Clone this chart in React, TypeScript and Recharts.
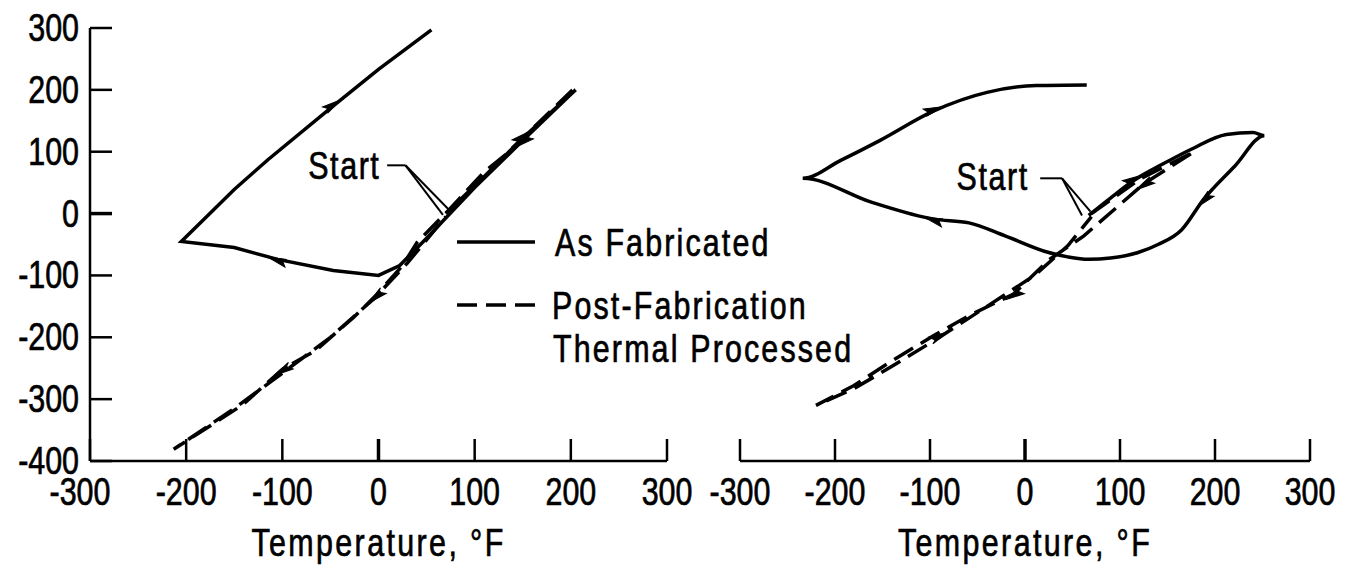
import { Label, Legend, Line, LineChart, ReferenceDot, ReferenceLine, XAxis, YAxis } from 'recharts';

const FONT = "'Liberation Sans', Arial, sans-serif";

const xTicks = [-300, -200, -100, 0, 100, 200, 300];
const yTicks = [-400, -300, -200, -100, 0, 100, 200, 300];
const xTitle = 'Temperature, °F';
const startText = 'Start';
const legendLabels = [['As Fabricated'], ['Post-Fabrication', 'Thermal Processed']];

// left panel
const asFabLeft = [
  { x: 70, y: 0 }, { x: 110, y: 60 }, { x: 150, y: 122 }, { x: 205, y: 200 },
  { x: 150, y: 118 }, { x: 100, y: 42 }, { x: 50, y: -40 }, { x: 22, y: -84 },
  { x: 0, y: -100 }, { x: -47, y: -92 }, { x: -105, y: -74 }, { x: -150, y: -55 },
  { x: -205, y: -45 }, { x: -150, y: 39 }, { x: -115, y: 87 }, { x: -47, y: 174 },
  { x: 0, y: 233 }, { x: 55, y: 297 },
];
const thermalLeft = [
  { x: 70, y: 0 }, { x: 110, y: 62 }, { x: 150, y: 122 }, { x: 205, y: 205 },
  { x: 150, y: 118 }, { x: 109, y: 66 }, { x: 72, y: 4 }, { x: 40, y: -47 },
  { x: 25, y: -84 }, { x: -3, y: -133 }, { x: -26, y: -168 }, { x: -40, y: -187 },
  { x: -65, y: -221 }, { x: -100, y: -252 }, { x: -142, y: -310 }, { x: -213, y: -381 },
  { x: -150, y: -315 }, { x: -100, y: -258 }, { x: -50, y: -200 }, { x: -5, y: -138 },
  { x: 30, y: -80 }, { x: 70, y: -5 },
];

// right panel
const asFabRight = [
  { x: 67, y: -3 }, { x: 90, y: 25 }, { x: 114, y: 53 }, { x: 145, y: 80 },
  { x: 175, y: 104 }, { x: 212, y: 128 }, { x: 240, y: 131 }, { x: 252, y: 126 },
  { x: 221, y: 77 }, { x: 188, y: 23 }, { x: 165, y: -26 }, { x: 140, y: -50 },
  { x: 119, y: -63 }, { x: 90, y: -72 }, { x: 67, y: -74 }, { x: 45, y: -70 },
  { x: 25, y: -63 }, { x: -21, y: -36 }, { x: -59, y: -15 }, { x: -96, y: -9 },
  { x: -161, y: 18 }, { x: -234, y: 57 }, { x: -194, y: 86 }, { x: -153, y: 118 },
  { x: -96, y: 166 }, { x: -40, y: 196 }, { x: 12, y: 207 }, { x: 65, y: 208 },
];
const thermalRight = [
  { x: 70, y: 0 }, { x: 120, y: 55 }, { x: 178, y: 100 }, { x: 125, y: 48 },
  { x: 62, y: -36 }, { x: 25, y: -75 }, { x: -12, y: -130 }, { x: -59, y: -165 },
  { x: -96, y: -197 }, { x: -143, y: -241 }, { x: -180, y: -278 }, { x: -220, y: -310 },
  { x: -180, y: -283 }, { x: -140, y: -247 }, { x: -90, y: -200 }, { x: -40, y: -150 },
  { x: 10, y: -100 }, { x: 45, y: -52 }, { x: 70, y: -5 },
];

// indices of points carrying a direction arrow
const arrowsAsFabLeft = [2, 10, 15];
const arrowsThermalLeft = [4, 9, 13];
const arrowsAsFabRight = [2, 9, 19, 24];
const arrowsThermalRight = [3, 6, 14];

// "Start" leader lines: [elbow start, elbow, tip A, tip B]
const startLeft = [{ x: 9, y: 78 }, { x: 28, y: 78 }, { x: 67, y: -2 }, { x: 74, y: 5 }];
const startRight = [{ x: 16, y: 57 }, { x: 39, y: 57 }, { x: 60, y: -3 }, { x: 69, y: 3 }];

const DASH = '22 9';

function NText({ x, y, anchor = 'start', spacing = 0, children }: any) {
  return (
    <text
      transform={`translate(${x},${y}) scale(0.8,1)`}
      textAnchor={anchor}
      fontSize={38}
      fontFamily={FONT}
      letterSpacing={spacing}
      fill="#000"
      stroke="#000"
      strokeWidth={0.7}
    >
      {children}
    </text>
  );
}

function XTick(props: any) {
  const { x, y, payload, nudge } = props;
  const dx = nudge && payload.value === -300 ? -10 : 0;
  return (
    <g>
      <line x1={x} y1={y} x2={x} y2={y - 22} stroke="#000" strokeWidth={payload.value === 0 ? 3.5 : 2.5} />
      <NText x={x + dx} y={y + 44} anchor="middle">{payload.value}</NText>
    </g>
  );
}

function YTick(props: any) {
  const { x, y, payload } = props;
  return (
    <g>
      <line x1={x} y1={y} x2={x + 22} y2={y} stroke="#000" strokeWidth={payload.value === 0 ? 3.5 : 2.5} />
      <NText x={x - 11} y={y + 13} anchor="end">{payload.value}</NText>
    </g>
  );
}

function StartLabel(props: any) {
  const { viewBox } = props;
  return <NText x={viewBox.x} y={viewBox.y + 14} anchor="end" spacing={2}>{startText}</NText>;
}

function TitleLabel(props: any) {
  const { viewBox } = props;
  return <NText x={viewBox.x + viewBox.width / 2} y={viewBox.y + viewBox.height - 5} anchor="middle" spacing={3}>{xTitle}</NText>;
}

function LegendBox() {
  return (
    <svg width={440} height={160} style={{ overflow: 'visible' }}>
      <line x1={7} y1={27} x2={85} y2={27} stroke="#000" strokeWidth={3.5} />
      <NText x={105} y={41} spacing={2.7}>{legendLabels[0][0]}</NText>
      <line x1={7} y1={90} x2={85} y2={90} stroke="#000" strokeWidth={3.5} strokeDasharray="20 9" />
      <NText x={102} y={104} spacing={2.7}>{legendLabels[1][0]}</NText>
      <NText x={103} y={147} spacing={2.7}>{legendLabels[1][1]}</NText>
    </svg>
  );
}

function arrowDot(indices: number[]) {
  return (props: any) => {
    const { cx, cy, index, points, key } = props;
    if (!indices.includes(index) || !points) return <g key={key} />;
    const p0 = points[Math.max(0, index - 1)];
    const p1 = points[Math.min(points.length - 1, index + 1)];
    const ang = (Math.atan2(p1.y - p0.y, p1.x - p0.x) * 180) / Math.PI;
    return (
      <path
        key={key}
        d="M10,0 L-9,-6 L-5,0 L-9,2 Z"
        transform={`translate(${cx},${cy}) rotate(${ang})`}
        fill="#000"
        stroke="#000"
        strokeWidth={1}
      />
    );
  };
}

function leaderLines(pts: { x: number; y: number }[], key: string) {
  return [
    <ReferenceLine key={key + 'h'} segment={[pts[0], pts[1]]} stroke="#000" strokeWidth={2} ifOverflow="visible" />,
    <ReferenceLine key={key + 'a'} segment={[pts[1], pts[2]]} stroke="#000" strokeWidth={2} ifOverflow="visible" />,
    <ReferenceLine key={key + 'b'} segment={[pts[1], pts[3]]} stroke="#000" strokeWidth={2} ifOverflow="visible" />,
  ];
}

export default function App() {
  return (
    <div style={{ position: 'absolute', left: 0, top: 0, width: 1345, height: 570, background: '#fff' }}>
      <div style={{ position: 'absolute', left: 0, top: 0 }}>
        <LineChart width={700} height={570} margin={{ top: 28, right: 33, bottom: 9, left: 0 }}>
          <XAxis
            type="number"
            dataKey="x"
            domain={[-300, 300]}
            ticks={xTicks}
            interval={0}
            tickSize={0}
            tickMargin={0}
            tick={<XTick nudge />}
            height={100}
            axisLine={{ stroke: '#000', strokeWidth: 2.5 }}
            allowDataOverflow
          >
            <Label content={<TitleLabel />} />
          </XAxis>
          <YAxis
            type="number"
            dataKey="y"
            domain={[-400, 300]}
            ticks={yTicks}
            interval={0}
            tickSize={0}
            tickMargin={0}
            tick={<YTick />}
            width={90}
            axisLine={{ stroke: '#000', strokeWidth: 2.5 }}
            allowDataOverflow
          />
          <Line data={thermalLeft} dataKey="y" type="linear" stroke="#000" strokeWidth={3.5} strokeDasharray={DASH} dot={arrowDot(arrowsThermalLeft)} isAnimationActive={false} />
          <Line data={asFabLeft} dataKey="y" type="linear" stroke="#000" strokeWidth={3.5} dot={arrowDot(arrowsAsFabLeft)} isAnimationActive={false} />
          {leaderLines(startLeft, 'l')}
          <ReferenceDot x={2} y={79} r={0} fill="none" stroke="none" ifOverflow="visible" label={<StartLabel />} />
          <Legend
            layout="horizontal"
            verticalAlign="middle"
            align="center"
            content={() => <LegendBox />}
            wrapperStyle={{ left: 450, top: 215, width: 440, height: 160 }}
          />
        </LineChart>
      </div>
      <div style={{ position: 'absolute', left: 700, top: 0 }}>
        <LineChart width={645} height={570} margin={{ top: 28, right: 35, bottom: 9, left: 40 }}>
          <XAxis
            type="number"
            dataKey="x"
            domain={[-300, 300]}
            ticks={xTicks}
            interval={0}
            tickSize={0}
            tickMargin={0}
            tick={<XTick />}
            height={100}
            axisLine={{ stroke: '#000', strokeWidth: 2.5 }}
            allowDataOverflow
          >
            <Label content={<TitleLabel />} />
          </XAxis>
          <YAxis type="number" dataKey="y" domain={[-400, 300]} hide allowDataOverflow />
          <Line data={thermalRight} dataKey="y" type="linear" stroke="#000" strokeWidth={3.5} strokeDasharray={DASH} dot={arrowDot(arrowsThermalRight)} isAnimationActive={false} />
          <Line data={asFabRight} dataKey="y" type="monotone" stroke="#000" strokeWidth={3.5} dot={arrowDot(arrowsAsFabRight)} isAnimationActive={false} />
          {leaderLines(startRight, 'r')}
          <ReferenceDot x={4} y={60} r={0} fill="none" stroke="none" ifOverflow="visible" label={<StartLabel />} />
        </LineChart>
      </div>
    </div>
  );
}
